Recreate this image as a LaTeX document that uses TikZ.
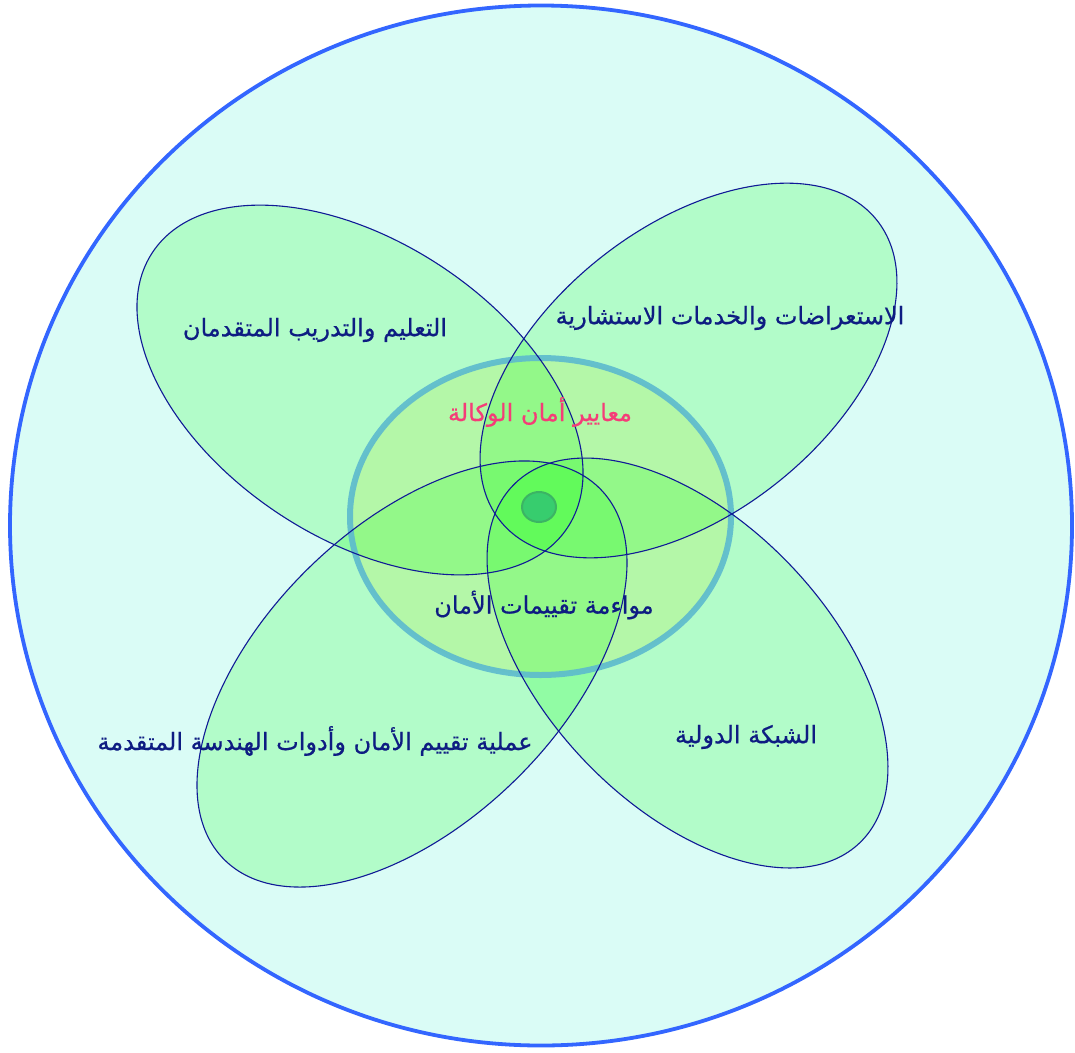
\documentclass[tikz,border=0pt]{standalone}
\usepackage{fontspec}
\newfontfamily\arabicfont[Script=Arabic, FakeBold=0.6]{DejaVu Sans}
\TeXXeTstate=1
\definecolor{bgcyan}{RGB}{218,252,246}
\definecolor{outerblue}{RGB}{51,102,255}
\definecolor{ringfill}{RGB}{220,246,205}
\definecolor{ringblue}{RGB}{92,186,206}
\definecolor{petalgreen}{RGB}{0,255,0}
\definecolor{petalblue}{RGB}{16,26,150}
\definecolor{labelblue}{RGB}{14,28,130}
\definecolor{labelpink}{RGB}{245,60,120}
\definecolor{dotgreen}{RGB}{55,205,110}
\definecolor{dotline}{RGB}{60,180,100}

\begin{document}
\begin{tikzpicture}[x=1pt, y=-1pt,
  petalfill/.style={fill=petalgreen, fill opacity=0.18},
  petalline/.style={draw=petalblue, line width=1.1pt},
  lbl/.style={font=\arabicfont\fontsize{24}{28}\selectfont, text=labelblue, inner sep=0pt}]
\useasboundingbox (0,0) rectangle (1075,1052);
% outer circle and security ring
\draw[fill=bgcyan, draw=outerblue, line width=3.8pt] (541,525.5) ellipse [x radius=531pt, y radius=520pt];
\fill[ringfill] (540.5,516.5) ellipse [x radius=190.5pt, y radius=158.5pt];
% four petals: fills first, then outlines
\foreach \cx/\cy/\a/\rx/\ry in {360/390/-33.6/249/148, 688.5/370.5/38.6/241/143, 412/674/44.5/264/148, 687.5/663/-46.25/249/142}
  \fill[petalfill, rotate around={\a:(\cx,\cy)}] (\cx,\cy) ellipse [x radius=\rx pt, y radius=\ry pt];
\draw[draw=ringblue, draw opacity=0.9, line width=6pt] (540.5,516.5) ellipse [x radius=190.5pt, y radius=158.5pt];
\foreach \cx/\cy/\a/\rx/\ry in {360/390/-33.6/249/148, 688.5/370.5/38.6/241/143, 412/674/44.5/264/148, 687.5/663/-46.25/249/142}
  \draw[petalline, rotate around={\a:(\cx,\cy)}] (\cx,\cy) ellipse [x radius=\rx pt, y radius=\ry pt];
\draw[fill=dotgreen, draw=dotline, line width=2pt] (539,507) ellipse [x radius=17pt, y radius=15pt];
% labels
\node[lbl] (training) at (315,330) {\beginR التعليم والتدريب المتقدمان\endR};
\node[lbl] (reviews) at (730,318) {\beginR الاستعراضات والخدمات الاستشارية\endR};
\node[lbl, text=labelpink] (standards) at (540,412) {\beginR معايير أمان الوكالة\endR};
\node[lbl] (harmonize) at (544,605) {\beginR مواءمة تقييمات الأمان\endR};
\node[lbl] (tools) at (315,741) {\beginR عملية تقييم الأمان وأدوات الهندسة المتقدمة\endR};
\node[lbl] (network) at (746,737) {\beginR الشبكة الدولية\endR};
\end{tikzpicture}
\end{document}
